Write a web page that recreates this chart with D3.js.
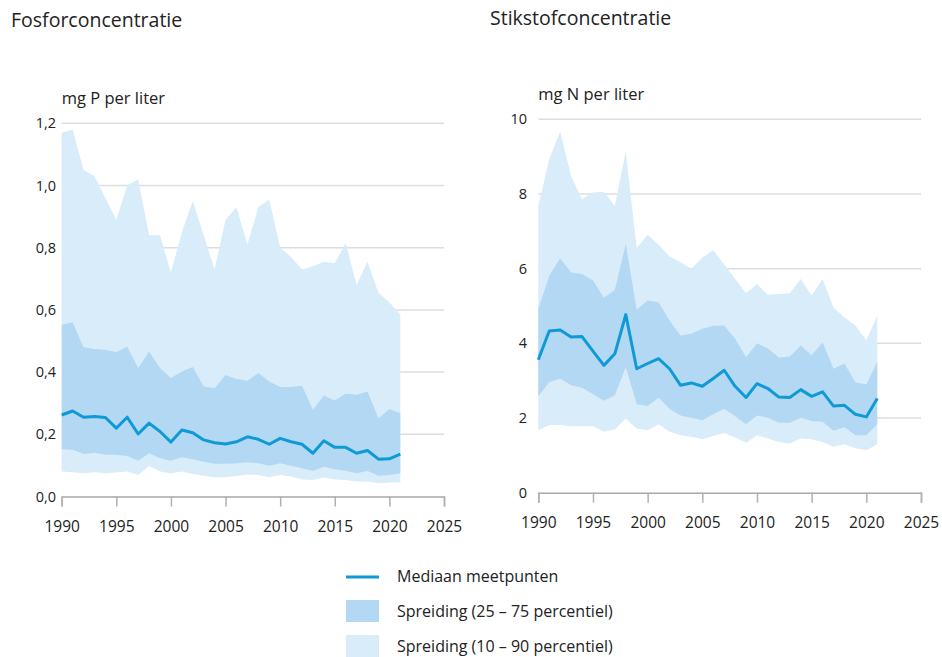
<!DOCTYPE html>
<html>
<head>
<meta charset="utf-8">
<script src="https://cdn.jsdelivr.net/npm/d3@7"></script>
<style>
  body { margin: 0; background: #fff; }
  svg text { font-family: "Open Sans", sans-serif; fill: #222; }
</style>
</head>
<body>
<svg id="chart" width="942" height="657"></svg>
<script>
// jaren (categorieën)
const years = [1990, 1991, 1992, 1993, 1994, 1995, 1996, 1997, 1998, 1999,
               2000, 2001, 2002, 2003, 2004, 2005, 2006, 2007, 2008, 2009,
               2010, 2011, 2012, 2013, 2014, 2015, 2016, 2017, 2018, 2019,
               2020, 2021];

// fosfor, mg P per liter
const fosfor_p10 = [0.080, 0.078, 0.075, 0.078, 0.075, 0.077, 0.080, 0.069, 0.098, 0.080,
                    0.075, 0.080, 0.072, 0.067, 0.062, 0.062, 0.066, 0.071, 0.069, 0.062,
                    0.069, 0.064, 0.055, 0.053, 0.061, 0.055, 0.053, 0.048, 0.048, 0.043,
                    0.045, 0.045];
const fosfor_p25 = [0.152, 0.150, 0.137, 0.141, 0.134, 0.134, 0.130, 0.115, 0.139, 0.123,
                    0.115, 0.126, 0.120, 0.112, 0.105, 0.105, 0.107, 0.110, 0.107, 0.099,
                    0.107, 0.099, 0.091, 0.082, 0.096, 0.088, 0.083, 0.075, 0.082, 0.067,
                    0.069, 0.075];
const fosfor_med = [0.262, 0.275, 0.255, 0.257, 0.254, 0.220, 0.255, 0.201, 0.236, 0.209,
                    0.175, 0.214, 0.205, 0.182, 0.173, 0.169, 0.176, 0.192, 0.184, 0.168,
                    0.187, 0.176, 0.168, 0.139, 0.179, 0.158, 0.158, 0.139, 0.148, 0.120,
                    0.121, 0.136];
const fosfor_p75 = [0.552, 0.560, 0.480, 0.474, 0.472, 0.464, 0.482, 0.413, 0.466, 0.413,
                    0.381, 0.402, 0.416, 0.354, 0.348, 0.391, 0.378, 0.372, 0.397, 0.370,
                    0.352, 0.352, 0.356, 0.279, 0.325, 0.309, 0.330, 0.327, 0.338, 0.252,
                    0.281, 0.268];
const fosfor_p90 = [1.17, 1.18, 1.05, 1.03, 0.96, 0.89, 1.00, 1.02, 0.84, 0.84,
                    0.72, 0.85, 0.95, 0.84, 0.73, 0.89, 0.93, 0.81, 0.93, 0.955,
                    0.80, 0.77, 0.73, 0.74, 0.755, 0.75, 0.815, 0.68, 0.755, 0.655,
                    0.625, 0.585];

// stikstof, mg N per liter
const stikstof_p10 = [1.67, 1.81, 1.81, 1.78, 1.78, 1.78, 1.63, 1.69, 1.99, 1.72,
                      1.67, 1.83, 1.63, 1.54, 1.50, 1.43, 1.52, 1.60, 1.48, 1.34,
                      1.54, 1.45, 1.36, 1.32, 1.45, 1.43, 1.36, 1.23, 1.30, 1.19,
                      1.14, 1.30];
const stikstof_p25 = [2.58, 2.96, 3.05, 2.88, 2.81, 2.64, 2.46, 2.61, 3.36, 2.37,
                      2.32, 2.55, 2.25, 2.07, 2.01, 1.94, 2.10, 2.25, 2.05, 1.83,
                      2.07, 2.01, 1.87, 1.87, 2.01, 1.92, 1.90, 1.66, 1.75, 1.54,
                      1.54, 1.83];
const stikstof_med = [3.56, 4.33, 4.36, 4.17, 4.18, 3.79, 3.41, 3.72, 4.77, 3.32,
                      3.46, 3.59, 3.32, 2.88, 2.94, 2.85, 3.06, 3.28, 2.85, 2.55,
                      2.92, 2.79, 2.56, 2.55, 2.76, 2.58, 2.70, 2.32, 2.34, 2.10,
                      2.03, 2.52];
const stikstof_p75 = [4.92, 5.81, 6.28, 5.90, 5.86, 5.68, 5.22, 5.43, 6.66, 4.90,
                      5.15, 5.10, 4.61, 4.21, 4.26, 4.39, 4.47, 4.48, 4.12, 3.63,
                      4.00, 3.86, 3.62, 3.65, 3.94, 3.68, 4.03, 3.32, 3.46, 2.96,
                      2.90, 3.50];
const stikstof_p90 = [7.68, 8.93, 9.67, 8.48, 7.86, 8.04, 8.06, 7.68, 9.13, 6.55,
                      6.91, 6.64, 6.33, 6.17, 5.99, 6.30, 6.49, 6.11, 5.72, 5.34,
                      5.59, 5.30, 5.32, 5.34, 5.72, 5.28, 5.72, 4.95, 4.70, 4.48,
                      4.08, 4.74];

// ticks
const xTicks = [1990, 1995, 2000, 2005, 2010, 2015, 2020, 2025];
const fosforTicks = [0, 0.2, 0.4, 0.6, 0.8, 1.0, 1.2];
const stikstofTicks = [0, 2, 4, 6, 8, 10];

const legendItems = ["Mediaan meetpunten", "Spreiding (25 – 75 percentiel)", "Spreiding (10 – 90 percentiel)"];

const kleur_licht = "#d9ecf9";
const kleur_midden = "#b3d8f3";
const kleur_lijn = "#0f9ad6";

const svg = d3.select("#chart");

function teken_grafiek(opt) {
  const x = d3.scaleLinear().domain([1990, 2025]).range([opt.x0, opt.x1]);
  const y = d3.scaleLinear().domain(opt.domain).range([opt.y0, opt.y1]);
  const g = svg.append("g");

  g.append("text")
    .attr("x", opt.titelX).attr("y", opt.titelY)
    .style("font-size", "19.5px")
    .text(opt.titel);

  g.append("text")
    .attr("x", opt.x0).attr("y", opt.y1 - 19)
    .style("font-size", "16.5px")
    .text(opt.eenheid);

  // gridlijnen
  g.append("g")
    .selectAll("line")
    .data(opt.yTicks.filter(d => d > 0))
    .enter()
    .append("line")
    .attr("x1", opt.x0).attr("x2", opt.x1)
    .attr("y1", d => y(d)).attr("y2", d => y(d))
    .attr("stroke", "#dedede")
    .attr("stroke-width", 1.5);

  const rows = years.map((jaar, i) => ({
    jaar: jaar, p10: opt.p10[i], p25: opt.p25[i], med: opt.med[i], p75: opt.p75[i], p90: opt.p90[i]
  }));

  g.append("path")
    .datum(rows)
    .attr("fill", kleur_licht)
    .attr("d", d3.area().x(d => x(d.jaar)).y0(d => y(d.p10)).y1(d => y(d.p90)));

  g.append("path")
    .datum(rows)
    .attr("fill", kleur_midden)
    .attr("d", d3.area().x(d => x(d.jaar)).y0(d => y(d.p25)).y1(d => y(d.p75)));

  g.append("path")
    .datum(rows)
    .attr("fill", "none")
    .attr("stroke", kleur_lijn)
    .attr("stroke-width", 3)
    .attr("stroke-linejoin", "round")
    .attr("d", d3.line().x(d => x(d.jaar)).y(d => y(d.med)));

  // x-as
  const xAxis = g.append("g")
    .attr("transform", "translate(0," + opt.y0 + ")")
    .call(d3.axisBottom(x).tickValues(xTicks).tickFormat(d3.format("d")).tickSize(10).tickPadding(14));
  xAxis.select(".domain").attr("stroke", "#a8a8a8").attr("stroke-width", 1.5);
  xAxis.selectAll(".tick line").attr("stroke", "#b0b0b0").attr("stroke-width", 1.5);
  xAxis.selectAll("text").style("font-size", "15.5px").style("font-family", "Open Sans").attr("fill", "#222");

  // y-labels
  g.append("g")
    .selectAll("text")
    .data(opt.yTicks)
    .enter()
    .append("text")
    .attr("x", opt.labelX)
    .attr("y", d => y(d))
    .attr("dy", "0.35em")
    .attr("text-anchor", "end")
    .style("font-size", "14.5px")
    .text(opt.fmt);
}

teken_grafiek({
  titel: "Fosforconcentratie", titelX: 11, titelY: 27,
  eenheid: "mg P per liter",
  x0: 61.7, x1: 444, y0: 496.5, y1: 123.3,
  domain: [0, 1.2], yTicks: fosforTicks, labelX: 56,
  fmt: d => d3.format(".1f")(d).replace(".", ","),
  p10: fosfor_p10, p25: fosfor_p25, med: fosfor_med, p75: fosfor_p75, p90: fosfor_p90
});

teken_grafiek({
  titel: "Stikstofconcentratie", titelX: 490, titelY: 25,
  eenheid: "mg N per liter",
  x0: 538.3, x1: 921, y0: 492.7, y1: 119.3,
  domain: [0, 10], yTicks: stikstofTicks, labelX: 527,
  fmt: d => String(d),
  p10: stikstof_p10, p25: stikstof_p25, med: stikstof_med, p75: stikstof_p75, p90: stikstof_p90
});

// legenda
const legenda = svg.append("g").attr("transform", "translate(346,0)");
legenda.append("line")
  .attr("x1", 0).attr("x2", 33).attr("y1", 577).attr("y2", 577)
  .attr("stroke", kleur_lijn).attr("stroke-width", 3);
legenda.append("rect")
  .attr("x", 0).attr("y", 600).attr("width", 33).attr("height", 22)
  .attr("fill", kleur_midden);
legenda.append("rect")
  .attr("x", 0).attr("y", 635).attr("width", 33).attr("height", 22)
  .attr("fill", kleur_licht);
legenda.selectAll("text.leg")
  .data(legendItems)
  .enter()
  .append("text")
  .attr("class", "leg")
  .attr("x", 51)
  .attr("y", (d, i) => 576 + i * 35)
  .attr("dy", "0.35em")
  .style("font-size", "16px")
  .text(d => d);
</script>
</body>
</html>
